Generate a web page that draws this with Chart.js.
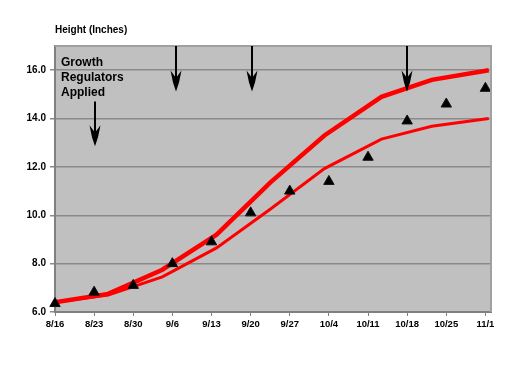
<!DOCTYPE html>
<html lang="en">
<head>
    <meta charset="UTF-8">
    <title>Height (Inches)</title>
    <script src="https://cdn.jsdelivr.net/npm/chart.js"></script>
    <style>
        html, body { margin: 0; padding: 0; background: #fff; }
        #wrap { width: 525px; height: 365px; }
    </style>
</head>
<body>
<div id="wrap"><canvas id="heightChart"></canvas></div>

<script>
    // x ticks: days after 8/16
    const tickDays = [0, 7, 14, 21, 28, 35, 42, 49, 56, 63, 70, 77];
    const tickLabels = ['8/16', '8/23', '8/30', '9/6', '9/13', '9/20', '9/27', '10/4', '10/11', '10/18', '10/25', '11/1'];
    const yTicks = [6, 8, 10, 12, 14, 16];

    // measured heights (triangles)
    const measured = [6.35, 6.82, 7.1, 8.0, 8.9, 10.1, 11.0, 11.4, 12.4, 13.9, 14.6, 15.25];

    // upper / lower red curves
    const curveDays = [0, 9.5, 19.2, 28.9, 38.5, 48.2, 58.4, 67.4, 77.6];
    const upperCurve = [6.4, 6.75, 7.75, 9.2, 11.35, 13.3, 14.9, 15.6, 16.0];
    const lowerCurve = [6.4, 6.7, 7.45, 8.65, 10.25, 11.93, 13.15, 13.68, 14.0];

    // growth regulator applications (day, from, to)
    const arrowDays = [7.2, 21.6, 35.3, 63];
    const arrowFrom = [14.7, 17, 17, 17];
    const arrowTo = [12.85, 15.12, 15.12, 15.12];

    const font = '"Liberation Sans", Arial, sans-serif';

    const toXY = (xs, ys) => xs.map((x, i) => ({ x: x, y: ys[i] }));

    const extras = {
        id: 'extras',
        beforeDraw(chart) {
            const { ctx, chartArea: a } = chart;
            ctx.save();
            ctx.fillStyle = '#c0c0c0';
            ctx.fillRect(a.left, a.top, a.right - a.left, a.bottom - a.top);
            ctx.restore();
        },
        afterDatasetsDraw(chart) {
            const { ctx, chartArea: a } = chart;
            const xs = chart.scales.x, ys = chart.scales.y;
            ctx.save();
            // top / right frame
            ctx.strokeStyle = '#a0a0a0';
            ctx.lineWidth = 2;
            ctx.beginPath();
            ctx.moveTo(a.left, a.top);
            ctx.lineTo(a.right, a.top);
            ctx.lineTo(a.right, a.bottom);
            ctx.stroke();

            // arrows
            ctx.fillStyle = '#000';
            ctx.strokeStyle = '#000';
            arrowDays.forEach((d, i) => {
                const x = Math.round(xs.getPixelForValue(d));
                const y0 = ys.getPixelForValue(arrowFrom[i]);
                const tip = ys.getPixelForValue(arrowTo[i]);
                ctx.lineWidth = 2;
                ctx.beginPath();
                ctx.moveTo(x, y0);
                ctx.lineTo(x, tip - 14);
                ctx.stroke();
                ctx.beginPath();
                ctx.moveTo(x - 5.5, tip - 21);
                ctx.lineTo(x - 1, tip - 15);
                ctx.lineTo(x + 1, tip - 15);
                ctx.lineTo(x + 5.5, tip - 21);
                ctx.lineTo(x + 3, tip - 9);
                ctx.lineTo(x, tip);
                ctx.lineTo(x - 3, tip - 9);
                ctx.closePath();
                ctx.fill();
            });

            // annotation text
            ctx.font = 'bold 12px ' + font;
            ctx.textBaseline = 'middle';
            ctx.textAlign = 'left';
            ['Growth', 'Regulators', 'Applied'].forEach((t, i) => {
                ctx.fillText(t, a.left + 6, a.top + 17 + i * 14.7);
            });

            // axis title
            ctx.font = 'bold 10px ' + font;
            ctx.fillText('Height (Inches)', a.left, 30);
            ctx.restore();
        }
    };

    const ctx = document.getElementById('heightChart').getContext('2d');

    const heightChart = new Chart(ctx, {
        type: 'line',
        data: {
            datasets: [{
                label: 'Measured',
                data: toXY(tickDays, measured),
                showLine: false,
                clip: false,
                pointStyle: 'triangle',
                pointRadius: 6,
                pointBackgroundColor: '#000',
                pointBorderColor: '#111',
                pointBorderWidth: 1,
                order: 0
            }, {
                label: 'Upper',
                data: toXY(curveDays, upperCurve),
                borderColor: '#ff0000',
                borderWidth: 4.5,
                pointRadius: 0,
                tension: 0,
                order: 1
            }, {
                label: 'Lower',
                data: toXY(curveDays, lowerCurve),
                borderColor: '#ff0000',
                borderWidth: 3,
                pointRadius: 0,
                tension: 0,
                order: 2
            }]
        },
        options: {
            responsive: true,
            maintainAspectRatio: false,
            animation: false,
            layout: { padding: { left: 0, right: 34, top: 46, bottom: 0 } },
            plugins: {
                legend: { display: false },
                tooltip: { enabled: false }
            },
            scales: {
                x: {
                    type: 'linear',
                    min: 0,
                    max: 78,
                    afterBuildTicks: (s) => { s.ticks = tickDays.map(v => ({ value: v })); },
                    afterFit: (s) => { s.height = 53; },
                    grid: {
                        drawOnChartArea: false,
                        drawTicks: true,
                        tickLength: 4,
                        color: '#808080'
                    },
                    border: { color: '#808080', width: 2 },
                    ticks: {
                        autoSkip: false,
                        maxRotation: 0,
                        padding: 3,
                        color: '#000',
                        font: { family: font, size: 9.5, weight: 'bold' },
                        callback: (v) => tickLabels[tickDays.indexOf(v)]
                    }
                },
                y: {
                    min: 6,
                    max: 17,
                    afterBuildTicks: (s) => { s.ticks = yTicks.map(v => ({ value: v })); },
                    afterFit: (s) => { s.width = 55; },
                    grid: {
                        color: '#8a8a8a',
                        lineWidth: 1.5,
                        tickLength: 5
                    },
                    border: { color: '#808080', width: 2 },
                    ticks: {
                        padding: 4,
                        color: '#000',
                        font: { family: font, size: 10, weight: 'bold' },
                        callback: (v) => v.toFixed(1)
                    }
                }
            }
        },
        plugins: [extras]
    });
</script>
</body>
</html>
